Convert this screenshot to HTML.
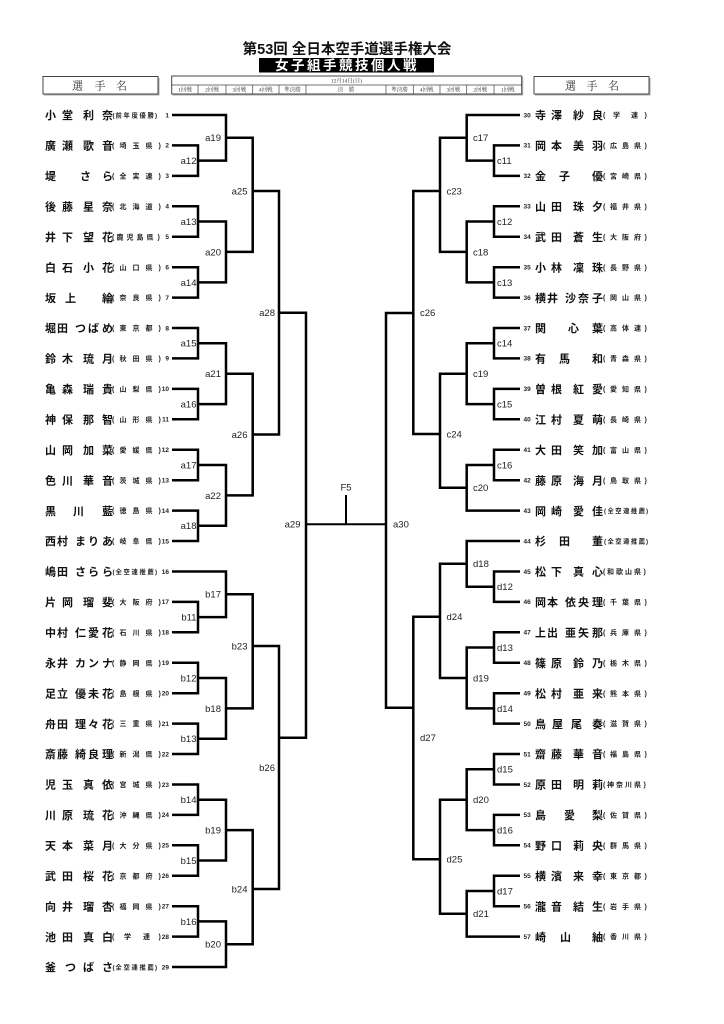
<!DOCTYPE html>
<html><head><meta charset="utf-8"><style>
html,body{margin:0;padding:0;background:#fff;}
svg{display:block;}
.nm{font-family:"Liberation Sans","Noto Sans CJK JP",sans-serif;font-weight:bold;font-size:11px;fill:#111;}
.pf{font-family:"Liberation Sans","Noto Sans CJK JP",sans-serif;font-weight:bold;font-size:7px;fill:#222;}
.pf5{font-family:"Liberation Sans","Noto Sans CJK JP",sans-serif;font-weight:bold;font-size:6.3px;fill:#222;}
.no{font-family:"Liberation Sans",sans-serif;font-weight:bold;font-size:6.5px;fill:#222;}
.lb{font-family:"Liberation Sans",sans-serif;font-size:9.5px;fill:#222;}
.ln{fill:none;stroke:#000;stroke-width:2.5;stroke-linejoin:miter;}
.fn{fill:none;stroke:#000;stroke-width:2;}
.tt{font-family:"Liberation Serif","Noto Serif CJK SC",serif;font-size:5.5px;fill:#333;}
.bx{fill:none;stroke:#444;stroke-width:1;}
.sh{fill:none;stroke:#aaa;stroke-width:1;}
.hd{font-family:"Liberation Serif","Noto Serif CJK SC",serif;font-size:11px;fill:#333;}
.ti{font-family:"Liberation Sans","Noto Sans CJK JP",sans-serif;font-weight:bold;font-size:14.5px;fill:#111;}
.st{font-family:"Liberation Sans","Noto Sans CJK JP",sans-serif;font-weight:bold;font-size:13.5px;fill:#fff;}
</style></head><body>
<svg width="724" height="1024" viewBox="0 0 724 1024" xmlns="http://www.w3.org/2000/svg">
<rect x="0" y="0" width="724" height="1024" fill="#fff"/>

<!-- Header -->
<text class="ti" x="347" y="54" text-anchor="middle">第53回 全日本空手道選手権大会</text>
<rect x="259" y="58" width="175" height="14.5" fill="#000"/>
<text class="st" x="275 291 307 323 339 355 371 387 403" y="70">女子組手競技個人戦</text>

<!-- left name box -->
<path class="sh" d="M44 95 H159 V78"/>
<rect class="bx" x="43" y="76.5" width="115" height="17.5"/>
<text class="hd" x="72 94.5 116" y="89.7">選手名</text>
<!-- right name box -->
<path class="sh" d="M535 95 H650 V78"/>
<rect class="bx" x="534" y="76.5" width="115" height="17.5"/>
<text class="hd" x="565 586.5 608" y="89.7">選手名</text>

<!-- round table -->
<path class="sh" d="M172.7 95 H522.7 V77"/>
<rect class="bx" x="171.7" y="76" width="350" height="18" stroke-width="0.8"/>
<line x1="171.7" y1="85" x2="521.7" y2="85" stroke="#444" stroke-width="0.7"/>
<g stroke="#444" stroke-width="0.7">
<line x1="198" y1="85" x2="198" y2="94"/><line x1="226" y1="85" x2="226" y2="94"/>
<line x1="252.7" y1="85" x2="252.7" y2="94"/><line x1="279" y1="85" x2="279" y2="94"/>
<line x1="306" y1="85" x2="306" y2="94"/><line x1="386" y1="85" x2="386" y2="94"/>
<line x1="413.3" y1="85" x2="413.3" y2="94"/><line x1="440" y1="85" x2="440" y2="94"/>
<line x1="466.7" y1="85" x2="466.7" y2="94"/><line x1="494" y1="85" x2="494" y2="94"/>
</g>
<text class="tt" x="346.5" y="82.5" text-anchor="middle">12月14日(日)</text>
<g class="tt" text-anchor="middle">
<text x="185" y="91.5">1回戦</text><text x="212" y="91.5">2回戦</text><text x="239.3" y="91.5">3回戦</text>
<text x="265.8" y="91.5">4回戦</text><text x="292.5" y="91.5">準決勝</text><text x="346" y="91.5">決　勝</text>
<text x="399.6" y="91.5">準決勝</text><text x="426.6" y="91.5">4回戦</text><text x="453.3" y="91.5">3回戦</text>
<text x="480.3" y="91.5">2回戦</text><text x="507.8" y="91.5">1回戦</text>
</g>

<!-- Bracket lines left -->
<g class="ln">
<path d="M172 145.4 H198 V175.9 H172"/>
<path d="M172 115 H226 V160.6 H198"/>
<path d="M172 206.3 H198 V236.7 H172"/>
<path d="M172 267.2 H198 V297.6 H172"/>
<path d="M198 221.5 H226 V282.4 H198"/>
<path d="M226 137.8 H252.7 V251.9 H226"/>
<path d="M172 328 H198 V358.4 H172"/>
<path d="M172 388.9 H198 V419.3 H172"/>
<path d="M198 343.2 H226 V404.1 H198"/>
<path d="M172 449.7 H198 V480.2 H172"/>
<path d="M172 510.6 H198 V541 H172"/>
<path d="M198 465 H226 V525.8 H198"/>
<path d="M226 373.7 H252.7 V495.4 H226"/>
<path d="M252.7 191 H279 V434.5 H252.7"/>
<path d="M279 312.7 H306 V737.7 H279"/>
<path d="M172 601.9 H198 V632.3 H172"/>
<path d="M172 571.5 H226 V617.1 H198"/>
<path d="M172 662.7 H198 V693.2 H172"/>
<path d="M172 723.6 H198 V754 H172"/>
<path d="M198 678 H226 V738.8 H198"/>
<path d="M226 594.3 H252.7 V708.4 H226"/>
<path d="M172 784.5 H198 V814.9 H172"/>
<path d="M172 845.3 H198 V875.8 H172"/>
<path d="M198 799.7 H226 V860.5 H198"/>
<path d="M172 906.2 H198 V936.6 H172"/>
<path d="M198 921.4 H226 V967 H172"/>
<path d="M226 830.1 H252.7 V944.2 H226"/>
<path d="M252.7 646 H279 V889 H252.7"/>
<!-- right -->
<path d="M520 145.4 H494 V175.9 H520"/>
<path d="M520 115 H466.7 V160.6 H494"/>
<path d="M520 206.3 H494 V236.7 H520"/>
<path d="M520 267.2 H494 V297.6 H520"/>
<path d="M494 221.5 H466.7 V282.4 H494"/>
<path d="M466.7 137.8 H440 V251.9 H466.7"/>
<path d="M520 328 H494 V358.4 H520"/>
<path d="M520 388.9 H494 V419.3 H520"/>
<path d="M494 343.2 H466.7 V404.1 H494"/>
<path d="M520 449.7 H494 V480.2 H520"/>
<path d="M494 465 H466.7 V510.6 H520"/>
<path d="M466.7 373.7 H440 V487.8 H466.7"/>
<path d="M440 191 H413.3 V434 H440"/>
<path d="M413.3 313 H386 V707.7 H413.3"/>
<path d="M520 571.5 H494 V601.9 H520"/>
<path d="M520 541 H466.7 V586.7 H494"/>
<path d="M520 632.3 H494 V662.7 H520"/>
<path d="M520 693.2 H494 V723.6 H520"/>
<path d="M494 647.5 H466.7 V708.4 H494"/>
<path d="M466.7 563.8 H440 V678 H466.7"/>
<path d="M520 754 H494 V784.5 H520"/>
<path d="M520 814.9 H494 V845.3 H520"/>
<path d="M494 769.2 H466.7 V830.1 H494"/>
<path d="M520 875.8 H494 V906.2 H520"/>
<path d="M494 891 H466.7 V936.6 H520"/>
<path d="M466.7 799.7 H440 V913.8 H466.7"/>
<path d="M440 616.7 H413.3 V859.3 H440"/>
</g>
<path class="fn" d="M305 524.3 H387"/>
<path class="fn" d="M346 495 V524.3"/>

<!-- Match labels -->
<g class="lb" text-anchor="end">
<text x="196.5" y="164">a12</text><text x="196.5" y="224.9">a13</text><text x="196.5" y="285.8">a14</text>
<text x="196.5" y="346.6">a15</text><text x="196.5" y="407.5">a16</text><text x="196.5" y="468.4">a17</text>
<text x="196.5" y="529.2">a18</text>
<text x="221" y="141.2">a19</text><text x="221" y="255.3">a20</text><text x="221" y="377.1">a21</text><text x="221" y="498.8">a22</text>
<text x="247.5" y="194.4">a25</text><text x="247.5" y="437.9">a26</text>
<text x="275" y="316.1">a28</text><text x="300.5" y="527.7">a29</text>
<text x="196.5" y="620.5">b11</text><text x="196.5" y="681.4">b12</text><text x="196.5" y="742.2">b13</text>
<text x="196.5" y="803.1">b14</text><text x="196.5" y="863.9">b15</text><text x="196.5" y="924.8">b16</text>
<text x="221" y="597.7">b17</text><text x="221" y="711.8">b18</text><text x="221" y="833.5">b19</text><text x="221" y="947.6">b20</text>
<text x="247.5" y="649.4">b23</text><text x="247.5" y="892.4">b24</text>
<text x="275" y="771.1">b26</text>
</g>
<g class="lb">
<text x="497" y="164">c11</text><text x="497" y="224.9">c12</text><text x="497" y="285.8">c13</text>
<text x="497" y="346.6">c14</text><text x="497" y="407.5">c15</text><text x="497" y="468.4">c16</text>
<text x="473" y="141.2">c17</text><text x="473" y="255.3">c18</text><text x="473" y="377.1">c19</text><text x="473" y="491.2">c20</text>
<text x="446.5" y="194.4">c23</text><text x="446.5" y="437.4">c24</text>
<text x="420" y="316.1">c26</text><text x="393" y="527.7">a30</text>
<text x="497" y="590.1">d12</text><text x="497" y="650.9">d13</text><text x="497" y="711.8">d14</text>
<text x="497" y="772.6">d15</text><text x="497" y="833.5">d16</text><text x="497" y="894.4">d17</text>
<text x="473" y="567.2">d18</text><text x="473" y="681.4">d19</text><text x="473" y="803.1">d20</text><text x="473" y="917.2">d21</text>
<text x="446.5" y="620.1">d24</text><text x="446.5" y="862.7">d25</text>
<text x="420" y="741.1">d27</text>
<text x="346" y="490.4" text-anchor="middle">F5</text>
</g>

<!-- Left players -->
<g transform="translate(0,115)"><text class="nm" x="45 62 83 102" y="4.2">小堂利奈</text><text class="pf5" x="112.5 115.5 123.5 131.5 139.5 147.5 155" y="2.4">(前年度優勝)</text><text class="no" x="169" y="2.3" text-anchor="end">1</text></g>
<g transform="translate(0,145.4)"><text class="nm" x="45 62 83 102" y="4.2">廣瀬歌音</text><text class="pf" x="112 119.5 132.5 145.5 158.5" y="2.6">(埼玉県)</text><text class="no" x="169" y="2.3" text-anchor="end">2</text></g>
<g transform="translate(0,175.9)"><text class="nm" x="45 80 102" y="4.2">堤さら</text><text class="pf" x="112 119.5 132.5 145.5 158.5" y="2.6">(全実連)</text><text class="no" x="169" y="2.3" text-anchor="end">3</text></g>
<g transform="translate(0,206.3)"><text class="nm" x="45 62 83 102" y="4.2">後藤星奈</text><text class="pf" x="112 119.5 132.5 145.5 158.5" y="2.6">(北海道)</text><text class="no" x="169" y="2.3" text-anchor="end">4</text></g>
<g transform="translate(0,236.7)"><text class="nm" x="45 62 83 102" y="4.2">井下望花</text><text class="pf" x="112 116.5 126.5 136.5 146.5 157.5" y="2.6">(鹿児島県)</text><text class="no" x="169" y="2.3" text-anchor="end">5</text></g>
<g transform="translate(0,267.2)"><text class="nm" x="45 62 83 102" y="4.2">白石小花</text><text class="pf" x="112 119.5 132.5 145.5 158.5" y="2.6">(山口県)</text><text class="no" x="169" y="2.3" text-anchor="end">6</text></g>
<g transform="translate(0,297.6)"><text class="nm" x="45 65 102" y="4.2">坂上綸</text><text class="pf" x="112 119.5 132.5 145.5 158.5" y="2.6">(奈良県)</text><text class="no" x="169" y="2.3" text-anchor="end">7</text></g>
<g transform="translate(0,328)"><text class="nm" x="45 57 75 88 102" y="4.2">堀田つばめ</text><text class="pf" x="112 119.5 132.5 145.5 158.5" y="2.6">(東京都)</text><text class="no" x="169" y="2.3" text-anchor="end">8</text></g>
<g transform="translate(0,358.4)"><text class="nm" x="45 62 83 102" y="4.2">鈴木琉月</text><text class="pf" x="112 119.5 132.5 145.5 158.5" y="2.6">(秋田県)</text><text class="no" x="169" y="2.3" text-anchor="end">9</text></g>
<g transform="translate(0,388.9)"><text class="nm" x="45 62 83 102" y="4.2">亀森瑞貴</text><text class="pf" x="112 119.5 132.5 145.5 158.5" y="2.6">(山梨県)</text><text class="no" x="169" y="2.3" text-anchor="end">10</text></g>
<g transform="translate(0,419.3)"><text class="nm" x="45 62 83 102" y="4.2">神保那智</text><text class="pf" x="112 119.5 132.5 145.5 158.5" y="2.6">(山形県)</text><text class="no" x="169" y="2.3" text-anchor="end">11</text></g>
<g transform="translate(0,449.7)"><text class="nm" x="45 62 83 102" y="4.2">山岡加菜</text><text class="pf" x="112 119.5 132.5 145.5 158.5" y="2.6">(愛媛県)</text><text class="no" x="169" y="2.3" text-anchor="end">12</text></g>
<g transform="translate(0,480.2)"><text class="nm" x="45 62 83 102" y="4.2">色川華音</text><text class="pf" x="112 119.5 132.5 145.5 158.5" y="2.6">(茨城県)</text><text class="no" x="169" y="2.3" text-anchor="end">13</text></g>
<g transform="translate(0,510.6)"><text class="nm" x="45 73 102" y="4.2">黒川藍</text><text class="pf" x="112 119.5 132.5 145.5 158.5" y="2.6">(徳島県)</text><text class="no" x="169" y="2.3" text-anchor="end">14</text></g>
<g transform="translate(0,541)"><text class="nm" x="45 57 75 88 102" y="4.2">西村まりあ</text><text class="pf" x="112 119.5 132.5 145.5 158.5" y="2.6">(岐阜県)</text><text class="no" x="169" y="2.3" text-anchor="end">15</text></g>
<g transform="translate(0,571.5)"><text class="nm" x="45 57 75 88 102" y="4.2">嶋田さらら</text><text class="pf5" x="112.5 115.5 123.5 131.5 139.5 147.5 155" y="2.4">(全空連推薦)</text><text class="no" x="169" y="2.3" text-anchor="end">16</text></g>
<g transform="translate(0,601.9)"><text class="nm" x="45 62 83 102" y="4.2">片岡瑠斐</text><text class="pf" x="112 119.5 132.5 145.5 158.5" y="2.6">(大阪府)</text><text class="no" x="169" y="2.3" text-anchor="end">17</text></g>
<g transform="translate(0,632.3)"><text class="nm" x="45 57 75 88 102" y="4.2">中村仁愛花</text><text class="pf" x="112 119.5 132.5 145.5 158.5" y="2.6">(石川県)</text><text class="no" x="169" y="2.3" text-anchor="end">18</text></g>
<g transform="translate(0,662.7)"><text class="nm" x="45 57 75 88 102" y="4.2">永井カンナ</text><text class="pf" x="112 119.5 132.5 145.5 158.5" y="2.6">(静岡県)</text><text class="no" x="169" y="2.3" text-anchor="end">19</text></g>
<g transform="translate(0,693.2)"><text class="nm" x="45 57 75 88 102" y="4.2">足立優未花</text><text class="pf" x="112 119.5 132.5 145.5 158.5" y="2.6">(島根県)</text><text class="no" x="169" y="2.3" text-anchor="end">20</text></g>
<g transform="translate(0,723.6)"><text class="nm" x="45 57 75 88 102" y="4.2">舟田理々花</text><text class="pf" x="112 119.5 132.5 145.5 158.5" y="2.6">(三重県)</text><text class="no" x="169" y="2.3" text-anchor="end">21</text></g>
<g transform="translate(0,754)"><text class="nm" x="45 57 75 88 102" y="4.2">斎藤綺良理</text><text class="pf" x="112 119.5 132.5 145.5 158.5" y="2.6">(新潟県)</text><text class="no" x="169" y="2.3" text-anchor="end">22</text></g>
<g transform="translate(0,784.5)"><text class="nm" x="45 62 83 102" y="4.2">児玉真依</text><text class="pf" x="112 119.5 132.5 145.5 158.5" y="2.6">(宮城県)</text><text class="no" x="169" y="2.3" text-anchor="end">23</text></g>
<g transform="translate(0,814.9)"><text class="nm" x="45 62 83 102" y="4.2">川原琉花</text><text class="pf" x="112 119.5 132.5 145.5 158.5" y="2.6">(沖縄県)</text><text class="no" x="169" y="2.3" text-anchor="end">24</text></g>
<g transform="translate(0,845.3)"><text class="nm" x="45 62 83 102" y="4.2">天本菜月</text><text class="pf" x="112 119.5 132.5 145.5 158.5" y="2.6">(大分県)</text><text class="no" x="169" y="2.3" text-anchor="end">25</text></g>
<g transform="translate(0,875.8)"><text class="nm" x="45 62 83 102" y="4.2">武田桜花</text><text class="pf" x="112 119.5 132.5 145.5 158.5" y="2.6">(京都府)</text><text class="no" x="169" y="2.3" text-anchor="end">26</text></g>
<g transform="translate(0,906.2)"><text class="nm" x="45 62 83 102" y="4.2">向井瑠杏</text><text class="pf" x="112 119.5 132.5 145.5 158.5" y="2.6">(福岡県)</text><text class="no" x="169" y="2.3" text-anchor="end">27</text></g>
<g transform="translate(0,936.6)"><text class="nm" x="45 62 83 102" y="4.2">池田真白</text><text class="pf" x="112 124 143 158.5" y="2.6">(学連)</text><text class="no" x="169" y="2.3" text-anchor="end">28</text></g>
<g transform="translate(0,967)"><text class="nm" x="45 65 83 102" y="4.2">釜つばさ</text><text class="pf5" x="112.5 115.5 123.5 131.5 139.5 147.5 155" y="2.4">(全空連推薦)</text><text class="no" x="169" y="2.3" text-anchor="end">29</text></g>

<!-- Right players -->
<g transform="translate(0,115)"><text class="no" x="523.5" y="2.3">30</text><text class="nm" x="535 551 573 592" y="4.2">寺澤紗良</text><text class="pf" x="603 613 631 644.5" y="2.6">(学連)</text></g>
<g transform="translate(0,145.4)"><text class="no" x="523.5" y="2.3">31</text><text class="nm" x="535 551 573 592" y="4.2">岡本美羽</text><text class="pf" x="603 610 622 634 644.5" y="2.6">(広島県)</text></g>
<g transform="translate(0,175.9)"><text class="no" x="523.5" y="2.3">32</text><text class="nm" x="535 559 592" y="4.2">金子優</text><text class="pf" x="603 610 622 634 644.5" y="2.6">(宮崎県)</text></g>
<g transform="translate(0,206.3)"><text class="no" x="523.5" y="2.3">33</text><text class="nm" x="535 551 573 592" y="4.2">山田珠夕</text><text class="pf" x="603 610 622 634 644.5" y="2.6">(福井県)</text></g>
<g transform="translate(0,236.7)"><text class="no" x="523.5" y="2.3">34</text><text class="nm" x="535 551 573 592" y="4.2">武田蒼生</text><text class="pf" x="603 610 622 634 644.5" y="2.6">(大阪府)</text></g>
<g transform="translate(0,267.2)"><text class="no" x="523.5" y="2.3">35</text><text class="nm" x="535 551 573 592" y="4.2">小林凜珠</text><text class="pf" x="603 610 622 634 644.5" y="2.6">(長野県)</text></g>
<g transform="translate(0,297.6)"><text class="no" x="523.5" y="2.3">36</text><text class="nm" x="535 547 565 578 592" y="4.2">横井沙奈子</text><text class="pf" x="603 610 622 634 644.5" y="2.6">(岡山県)</text></g>
<g transform="translate(0,328)"><text class="no" x="523.5" y="2.3">37</text><text class="nm" x="535 568 592" y="4.2">関心葉</text><text class="pf" x="603 610 622 634 644.5" y="2.6">(高体連)</text></g>
<g transform="translate(0,358.4)"><text class="no" x="523.5" y="2.3">38</text><text class="nm" x="535 559 592" y="4.2">有馬和</text><text class="pf" x="603 610 622 634 644.5" y="2.6">(青森県)</text></g>
<g transform="translate(0,388.9)"><text class="no" x="523.5" y="2.3">39</text><text class="nm" x="535 551 573 592" y="4.2">曽根紅愛</text><text class="pf" x="603 610 622 634 644.5" y="2.6">(愛知県)</text></g>
<g transform="translate(0,419.3)"><text class="no" x="523.5" y="2.3">40</text><text class="nm" x="535 551 573 592" y="4.2">江村夏萌</text><text class="pf" x="603 610 622 634 644.5" y="2.6">(長崎県)</text></g>
<g transform="translate(0,449.7)"><text class="no" x="523.5" y="2.3">41</text><text class="nm" x="535 551 573 592" y="4.2">大田笑加</text><text class="pf" x="603 610 622 634 644.5" y="2.6">(富山県)</text></g>
<g transform="translate(0,480.2)"><text class="no" x="523.5" y="2.3">42</text><text class="nm" x="535 551 573 592" y="4.2">藤原海月</text><text class="pf" x="603 610 622 634 644.5" y="2.6">(鳥取県)</text></g>
<g transform="translate(0,510.6)"><text class="no" x="523.5" y="2.3">43</text><text class="nm" x="535 551 573 592" y="4.2">岡崎愛佳</text><text class="pf5" x="604 607.5 615.3 623.1 630.9 638.7 646" y="2.4">(全空連推薦)</text></g>
<g transform="translate(0,541)"><text class="no" x="523.5" y="2.3">44</text><text class="nm" x="535 559 592" y="4.2">杉田董</text><text class="pf5" x="604 607.5 615.3 623.1 630.9 638.7 646" y="2.4">(全空連推薦)</text></g>
<g transform="translate(0,571.5)"><text class="no" x="523.5" y="2.3">45</text><text class="nm" x="535 551 573 592" y="4.2">松下真心</text><text class="pf" x="603 607 616 625 634 643.5" y="2.6">(和歌山県)</text></g>
<g transform="translate(0,601.9)"><text class="no" x="523.5" y="2.3">46</text><text class="nm" x="535 547 565 578 592" y="4.2">岡本依央理</text><text class="pf" x="603 610 622 634 644.5" y="2.6">(千葉県)</text></g>
<g transform="translate(0,632.3)"><text class="no" x="523.5" y="2.3">47</text><text class="nm" x="535 547 565 578 592" y="4.2">上出亜矢那</text><text class="pf" x="603 610 622 634 644.5" y="2.6">(兵庫県)</text></g>
<g transform="translate(0,662.7)"><text class="no" x="523.5" y="2.3">48</text><text class="nm" x="535 551 573 592" y="4.2">篠原鈴乃</text><text class="pf" x="603 610 622 634 644.5" y="2.6">(栃木県)</text></g>
<g transform="translate(0,693.2)"><text class="no" x="523.5" y="2.3">49</text><text class="nm" x="535 551 573 592" y="4.2">松村亜来</text><text class="pf" x="603 610 622 634 644.5" y="2.6">(熊本県)</text></g>
<g transform="translate(0,723.6)"><text class="no" x="523.5" y="2.3">50</text><text class="nm" x="535 552 571 592" y="4.2">鳥屋尾奏</text><text class="pf" x="603 610 622 634 644.5" y="2.6">(滋賀県)</text></g>
<g transform="translate(0,754)"><text class="no" x="523.5" y="2.3">51</text><text class="nm" x="535 551 573 592" y="4.2">齋藤華音</text><text class="pf" x="603 610 622 634 644.5" y="2.6">(福島県)</text></g>
<g transform="translate(0,784.5)"><text class="no" x="523.5" y="2.3">52</text><text class="nm" x="535 551 573 592" y="4.2">原田明莉</text><text class="pf" x="603 607 616 625 634 643.5" y="2.6">(神奈川県)</text></g>
<g transform="translate(0,814.9)"><text class="no" x="523.5" y="2.3">53</text><text class="nm" x="535 564 592" y="4.2">島愛梨</text><text class="pf" x="603 610 622 634 644.5" y="2.6">(佐賀県)</text></g>
<g transform="translate(0,845.3)"><text class="no" x="523.5" y="2.3">54</text><text class="nm" x="535 551 573 592" y="4.2">野口莉央</text><text class="pf" x="603 610 622 634 644.5" y="2.6">(群馬県)</text></g>
<g transform="translate(0,875.8)"><text class="no" x="523.5" y="2.3">55</text><text class="nm" x="535 551 573 592" y="4.2">横濱来幸</text><text class="pf" x="603 610 622 634 644.5" y="2.6">(東京都)</text></g>
<g transform="translate(0,906.2)"><text class="no" x="523.5" y="2.3">56</text><text class="nm" x="535 551 573 592" y="4.2">瀧音結生</text><text class="pf" x="603 610 622 634 644.5" y="2.6">(岩手県)</text></g>
<g transform="translate(0,936.6)"><text class="no" x="523.5" y="2.3">57</text><text class="nm" x="535 560 592" y="4.2">崎山紬</text><text class="pf" x="603 610 622 634 644.5" y="2.6">(香川県)</text></g>
</svg>
</body></html>
